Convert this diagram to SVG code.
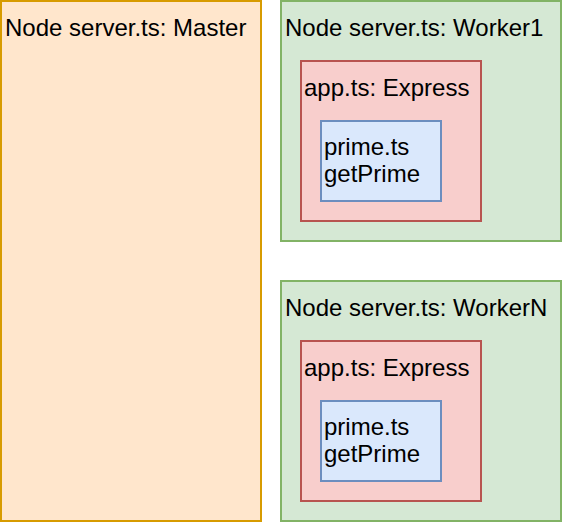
<svg xmlns="http://www.w3.org/2000/svg" width="562" height="522" viewBox="0 0 562 522">
<style>
text{font-family:"Liberation Sans",Arial,Helvetica,sans-serif;font-size:24px;fill:#000}
.o{fill:#ffe6cc;stroke:#d79b00;stroke-width:2}
.g{fill:#d5e8d4;stroke:#82b366;stroke-width:2}
.r{fill:#f8cecc;stroke:#b85450;stroke-width:2}
.b{fill:#dae8fc;stroke:#6c8ebf;stroke-width:2}
</style>
<rect width="562" height="522" fill="#fff"/>
<g id="master"><rect class="o" x="1" y="1" width="260" height="520"/><text x="5" y="36">Node server.ts: Master</text></g>
<g id="worker1"><rect class="g" x="281" y="1" width="280" height="240"/><text x="285" y="36">Node server.ts: Worker1</text></g>
<g id="app1"><rect class="r" x="301" y="61" width="180" height="160"/><text x="304" y="96">app.ts: Express</text></g>
<g id="prime1"><rect class="b" x="321" y="121" width="120" height="80"/><text x="324" y="155">prime.ts</text><text x="324" y="182">getPrime</text></g>
<g id="workerN"><rect class="g" x="281" y="281" width="280" height="240"/><text x="285" y="316">Node server.ts: WorkerN</text></g>
<g id="appN"><rect class="r" x="301" y="341" width="180" height="160"/><text x="304" y="376">app.ts: Express</text></g>
<g id="primeN"><rect class="b" x="321" y="401" width="120" height="80"/><text x="324" y="435">prime.ts</text><text x="324" y="462">getPrime</text></g>
<g id="connectors"/>
</svg>
